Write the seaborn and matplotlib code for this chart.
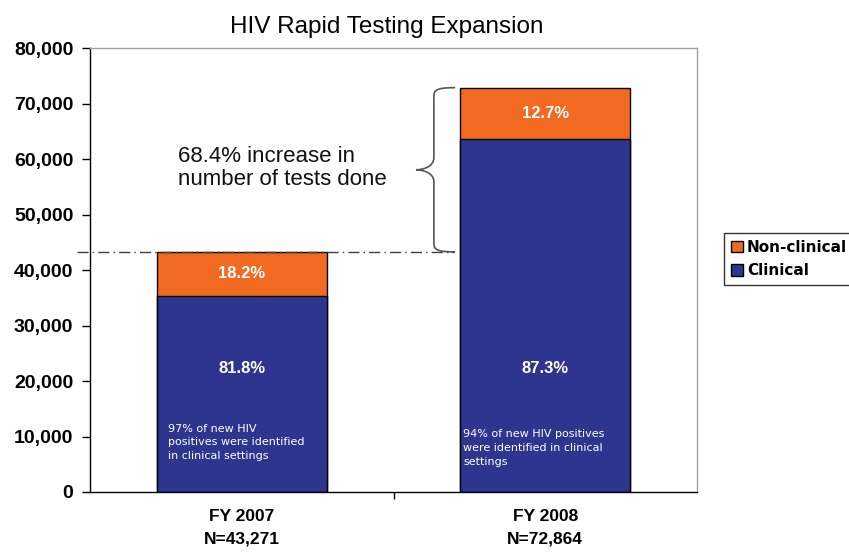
import numpy as np
import pandas as pd
import matplotlib
matplotlib.use("Agg")
import matplotlib.pyplot as plt
from matplotlib.path import Path
from matplotlib.patches import PathPatch, Patch
import seaborn as sns

# data
years = ["FY 2007\nN=43,271", "FY 2008\nN=72,864"]
totals = [43271, 72864]
clinical_pct = [81.8, 87.3]
nonclinical_pct = [18.2, 12.7]
clinical = [t * p / 100 for t, p in zip(totals, clinical_pct)]
notes = ["97% of new HIV\npositives were identified\nin clinical settings",
         "94% of new HIV positives\nwere identified in clinical\nsettings"]

orange = "#F26A22"
blue = "#2E358F"

sns.set_theme(style="white")
plt.rcParams["font.family"] = ["Liberation Sans", "DejaVu Sans"]
plt.rcParams["text.color"] = "black"
plt.rcParams["xtick.color"] = "black"
plt.rcParams["ytick.color"] = "black"
plt.rcParams["xtick.labelcolor"] = "black"
plt.rcParams["ytick.labelcolor"] = "black"

fig = plt.figure(figsize=(8.49, 5.57), dpi=100)
ax = fig.add_axes([0.106, 0.1167, 0.715, 0.797])

df = pd.DataFrame({"year": years, "total": totals, "clinical": clinical})
# total bar in orange, clinical part drawn over it in blue
sns.barplot(data=df, x="year", y="total", color=orange, saturation=1,
            width=0.56, edgecolor="black", linewidth=1, ax=ax)
sns.barplot(data=df, x="year", y="clinical", color=blue, saturation=1,
            width=0.56, edgecolor="black", linewidth=1, ax=ax)

ax.set_xlim(-0.5, 1.5)
ax.set_ylim(0, 80000)
ax.set_yticks(np.arange(0, 80001, 10000))
ax.set_yticklabels([f"{v:,}" for v in range(0, 80001, 10000)],
                   fontsize=14, fontweight="bold")
ax.set_xticks([0, 1])
ax.set_xticklabels(years, fontsize=12.5, fontweight="bold", linespacing=1.65)
ax.set_xticks([0.5], minor=True)
ax.tick_params(axis="x", which="major", length=0, pad=12)
ax.tick_params(axis="x", which="minor", bottom=True, length=5, width=1, color="black", direction="out")
ax.tick_params(axis="y", left=True, length=6, width=1, color="black", direction="out", pad=6)
ax.set_xlabel("")
ax.set_ylabel("")

for s in ["left", "bottom"]:
    ax.spines[s].set_color("black")
    ax.spines[s].set_linewidth(1)
for s in ["top", "right"]:
    ax.spines[s].set_color("#A0A0A0")
    ax.spines[s].set_linewidth(1)

# percentage labels
for i in range(2):
    ax.text(i, (clinical[i] + totals[i]) / 2, f"{nonclinical_pct[i]}%", color="white",
            fontsize=12, fontweight="bold", ha="center", va="center")
    ax.text(i, 22300, f"{clinical_pct[i]}%", color="white",
            fontsize=12, fontweight="bold", ha="center", va="center")

ax.text(-0.243, 12300, notes[0], color="white", fontsize=8, family="DejaVu Sans",
        ha="left", va="top", linespacing=1.45)
ax.text(0.729, 11300, notes[1], color="white", fontsize=8, family="DejaVu Sans",
        ha="left", va="top", linespacing=1.5)

# dash-dot reference line at the FY2007 total
ax.plot([-0.543, 0.70], [totals[0], totals[0]], color="#404040", lw=1,
        linestyle=(0, (8, 3, 1, 3)), clip_on=False, zorder=5)

# curly brace between the two totals
y0, y1 = totals[0], totals[1]
ym = (y0 + y1) / 2
xe, xv, xt = 0.703, 0.633, 0.574
dy = 2200
verts = [(xe, y1), (xv - 0.005, y1), (xv, y1 - dy * 0.3), (xv, y1 - dy),
         (xv, ym + dy),
         (xv, ym + dy * 0.2), (xt + 0.02, ym), (xt, ym),
         (xt + 0.02, ym), (xv, ym - dy * 0.2), (xv, ym - dy),
         (xv, y0 + dy),
         (xv, y0 + dy * 0.3), (xv - 0.005, y0), (xe, y0)]
codes = [Path.MOVETO, Path.CURVE4, Path.CURVE4, Path.CURVE4,
         Path.LINETO,
         Path.CURVE4, Path.CURVE4, Path.CURVE4,
         Path.CURVE4, Path.CURVE4, Path.CURVE4,
         Path.LINETO,
         Path.CURVE4, Path.CURVE4, Path.CURVE4]
ax.add_patch(PathPatch(Path(verts, codes), fill=False, edgecolor="#555555", lw=1.2, clip_on=False))

increase = (totals[1] - totals[0]) / totals[0] * 100
ax.text(-0.21, 58400, f"{increase:.1f}% increase in\nnumber of tests done",
        fontsize=16, ha="left", va="center", linespacing=1.15, color="#111111")

fig.text(0.456, 0.9515, "HIV Rapid Testing Expansion", fontsize=17.5,
         ha="center", va="center", color="black")

handles = [Patch(facecolor=orange, edgecolor="black", linewidth=1, label="Non-clinical"),
           Patch(facecolor=blue, edgecolor="black", linewidth=1, label="Clinical")]
leg = fig.legend(handles=handles, loc="upper left", bbox_to_anchor=(0.853, 0.5817),
                 borderaxespad=0, fancybox=False, frameon=True, edgecolor="black",
                 prop={"family": "DejaVu Sans", "weight": "bold", "size": 11},
                 handlelength=0.75, handleheight=0.75, handletextpad=0.3,
                 labelspacing=0.55, borderpad=0.45)
leg.get_frame().set_linewidth(1)

fig.savefig("out.png", dpi=100)
